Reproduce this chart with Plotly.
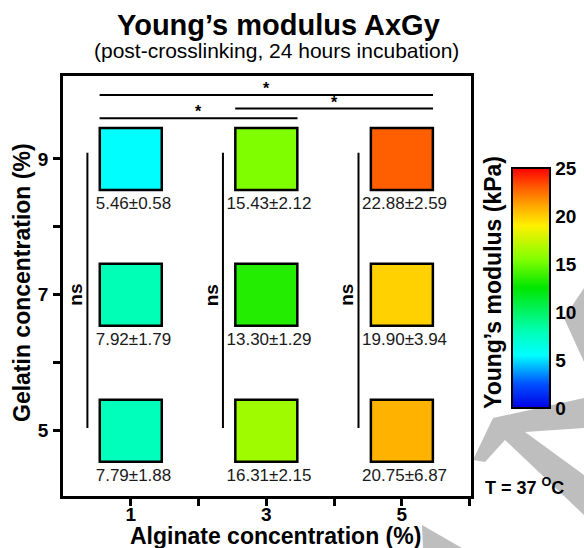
import plotly.graph_objects as go

# ---------------- data ----------------
alginate = [1, 3, 5]          # Alginate concentration (%)
gelatin = [5, 7, 9]           # Gelatin concentration (%)

# Young's modulus (kPa): mean and SD, one list per gelatin row, ordered by alginate 1,3,5
mean_g5 = [7.79, 16.31, 20.75]
sd_g5 = [1.88, 2.15, 6.87]
mean_g7 = [7.92, 13.30, 19.90]
sd_g7 = [1.79, 1.29, 3.94]
mean_g9 = [5.46, 15.43, 22.88]
sd_g9 = [0.58, 2.12, 2.59]

# significance brackets between alginate groups (start, end, label)
sig_start = [1, 3, 1]
sig_end = [5, 5, 3]
sig_label = ["*", "*", "*"]
sig_level = [9.94, 9.74, 9.60]

ns_label = "ns"
cbar_ticks = [0, 5, 10, 15, 20, 25]

FONT = "Arial, Liberation Sans, sans-serif"

means = {5: mean_g5, 7: mean_g7, 9: mean_g9}
sds = {5: sd_g5, 7: sd_g7, 9: sd_g9}

xs, ys, cs, txt = [], [], [], []
for g in gelatin:
    for i, a in enumerate(alginate):
        xs.append(a)
        ys.append(g)
        cs.append(means[g][i])
        txt.append(f"{means[g][i]:.2f}±{sds[g][i]:.2f}")

colorscale = [
    [0.00, "rgb(0,0,230)"],
    [0.10, "rgb(0,80,255)"],
    [0.22, "rgb(0,255,255)"],
    [0.32, "rgb(0,255,180)"],
    [0.50, "rgb(0,230,0)"],
    [0.62, "rgb(130,255,0)"],
    [0.76, "rgb(255,240,0)"],
    [0.84, "rgb(255,170,0)"],
    [0.92, "rgb(255,90,0)"],
    [1.00, "rgb(255,0,0)"],
]

fig = go.Figure()

# "ns" vertical lines per alginate column
for a in alginate:
    fig.add_trace(go.Scatter(x=[a - 0.64, a - 0.64], y=[5.04, 9.09], mode="lines",
                             line=dict(color="black", width=2), showlegend=False,
                             hoverinfo="skip"))

# significance lines
for s, e, lv in zip(sig_start, sig_end, sig_level):
    fig.add_trace(go.Scatter(x=[s - 0.46, e + 0.46], y=[lv, lv], mode="lines",
                             line=dict(color="black", width=2), showlegend=False,
                             hoverinfo="skip"))

# squares
fig.add_trace(go.Scatter(
    x=xs, y=ys, mode="markers",
    marker=dict(symbol="square", size=62, color=cs, colorscale=colorscale,
                cmin=0, cmax=25, line=dict(color="black", width=2.5),
                showscale=True,
                colorbar=dict(
                    x=1.1005, xanchor="left", xpad=0, ypad=0,
                    y=0.495, yanchor="middle",
                    len=240, lenmode="pixels", thickness=38,
                    outlinewidth=2, outlinecolor="black",
                    tickvals=cbar_ticks, ticks="",
                    tickfont=dict(family=FONT, size=19, color="black", weight="bold"),
                )),
    showlegend=False,
))

# value labels under squares
fig.add_trace(go.Scatter(
    x=[x + 0.04 for x in xs], y=[y - 0.68 for y in ys], mode="text", text=txt,
    textfont=dict(family=FONT, size=17, color="#1a1a1a"),
    showlegend=False, hoverinfo="skip",
))

annotations = []
for s, e, lv, lab in zip(sig_start, sig_end, sig_level, sig_label):
    annotations.append(dict(x=(s + e) / 2, y=lv, xref="x", yref="y", text=f"<b>{lab}</b>",
                            showarrow=False, xanchor="center", yanchor="bottom", yshift=-4,
                            font=dict(family=FONT, size=16, color="black")))
for a in alginate:
    annotations.append(dict(x=a - 0.81, y=7, xref="x", yref="y", text=f"<b>{ns_label}</b>",
                            showarrow=False, textangle=-90, xanchor="center", yanchor="middle",
                            font=dict(family=FONT, size=19, color="black")))

def px(xp):
    return (xp - 63) / 408

def py(yp):
    return (496 - yp) / 420

def ann(xp, yp, text, size, angle=0):
    return dict(x=px(xp), y=py(yp), xref="paper", yref="paper", showarrow=False,
                xanchor="center", yanchor="middle", textangle=angle, text=text,
                font=dict(family=FONT, size=size, color="black"))

annotations += [
    ann(278, 25, "<b>Young’s modulus AxGy</b>", 29),
    ann(276, 50, "(post-crosslinking, 24 hours incubation)", 21),
    ann(275, 536, "<b>Alginate concentration (%)</b>", 23),
    ann(22, 283, "<b>Gelatin concentration (%)</b>", 23, -90),
    ann(493, 283, "<b>Young’s modulus (kPa)</b>", 23, -90),
    ann(524, 486, "<b>T = 37 <sup>O</sup>C</b>", 18),
]

def path(points):
    return "M " + " L ".join(f"{px(a):.4f},{py(b):.4f}" for a, b in points) + " Z"

gray = "rgb(190,190,190)"
shapes = [
    dict(type="path", xref="paper", yref="paper", layer="below", line_width=0, fillcolor=gray,
         path=path([(564, 318), (584, 288), (584, 362)])),
    dict(type="path", xref="paper", yref="paper", layer="below", line_width=0, fillcolor=gray,
         path=path([(473, 460), (493, 418), (584, 398), (584, 428), (525, 432),
                    (584, 475), (584, 515), (505, 440), (485, 462)])),
    dict(type="path", xref="paper", yref="paper", layer="below", line_width=0, fillcolor=gray,
         path=path([(422, 525), (462, 548), (423, 548)])),
]

axis_common = dict(
    showline=True, linewidth=2.5, linecolor="black", mirror=True,
    showgrid=False, zeroline=False, automargin=False,
    ticks="outside", ticklen=7, tickwidth=2.5, tickcolor="black",
    tickfont=dict(family=FONT, size=19, color="black", weight="bold"),
    minor=dict(ticks="outside", ticklen=7, tickwidth=2.5, tickcolor="black",
               tickmode="array", tickvals=[2, 4, 6, 8]),
)

fig.update_layout(
    width=584, height=548,
    margin=dict(l=63, r=113, t=76, b=52, autoexpand=False),
    paper_bgcolor="white", plot_bgcolor="white",
    xaxis=dict(range=[0, 6.02], tickmode="array", tickvals=alginate,
               ticklabelstandoff=-8, **axis_common),
    yaxis=dict(range=[4.04, 10.22], tickmode="array", tickvals=gelatin,
               ticklabelstandoff=1, **axis_common),
    annotations=annotations,
    shapes=shapes,
    showlegend=False,
)

fig.write_html("out.html", config={"displayModeBar": False},
               post_script="document.body.style.margin='0';document.body.style.overflow='hidden';")
